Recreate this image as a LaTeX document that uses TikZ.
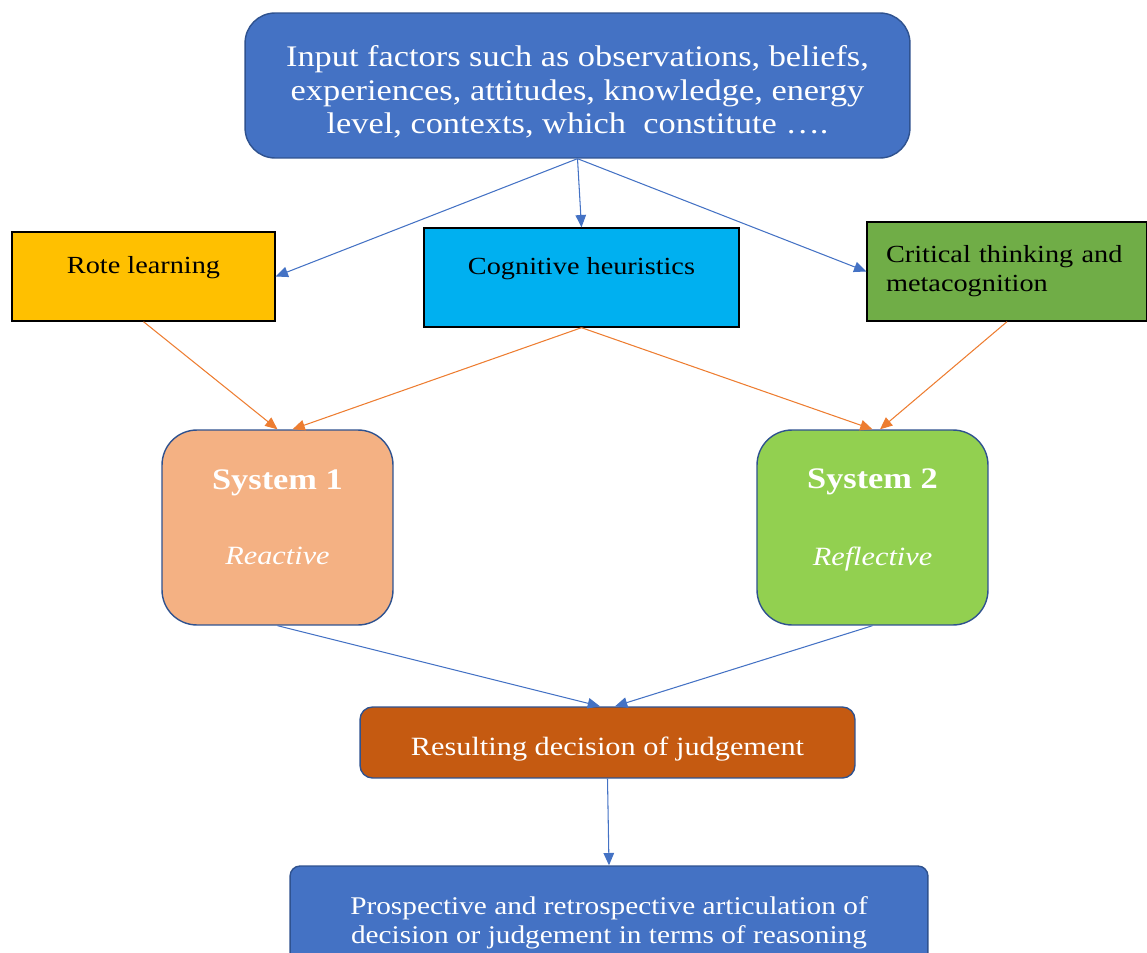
\documentclass[tikz,border=0pt]{standalone}
\usepackage{fontspec}
\setmainfont[FakeStretch=1.15]{Liberation Serif}
\usepackage{xcolor}
\usepackage{tikz}
\usetikzlibrary{shapes,arrows.meta,positioning}
\definecolor{inblue}{HTML}{4472C4}
\definecolor{inedge}{HTML}{2F528F}
\definecolor{rotefill}{HTML}{FFC000}
\definecolor{cogfill}{HTML}{00B0F0}
\definecolor{critfill}{HTML}{70AD47}
\definecolor{sysone}{HTML}{F4B183}
\definecolor{systwo}{HTML}{92D050}
\definecolor{resfill}{HTML}{C55A11}
\definecolor{orarrow}{HTML}{ED7D31}

\begin{document}
\begin{tikzpicture}[x=0.02cm, y=-0.02cm,
                   box/.style={draw=black, line width=0.8pt, inner sep=0pt, align=center,
                               font=\fontsize{14}{16.5}\selectfont},
                   roundbox/.style={draw=inedge, line width=0.8pt, inner sep=0pt, align=center,
                                    text=white},
                   sysbox/.style={roundbox, rounded corners=0.7cm, minimum width=4.62cm,
                                  minimum height=3.9cm},
                   bluearrow/.style={draw=inblue, line width=0.6pt,
                                     -{Triangle[width=6pt,length=7pt]}},
                   orangearrow/.style={draw=orarrow, line width=0.6pt,
                                       -{Triangle[width=6pt,length=7pt]}}]
          \useasboundingbox (0,0) rectangle (1147,953);
          % input box
          \node[roundbox, fill=inblue, rounded corners=0.6cm, minimum width=13.3cm,
                minimum height=2.9cm] (input) at (577.5,85.5) {};
          \node[text=white, align=center, inner sep=0pt,
                font=\fontsize{17}{19}\selectfont] (inputtext) at (577.5,92)
            {Input factors such as observations, beliefs,\\
             experiences, attitudes, knowledge, energy\\
             level, contexts, which\ \ constitute \dots.};
          % three routes
          \node[box, fill=rotefill, minimum width=5.26cm, minimum height=1.78cm,
                text depth=0.45cm] (rote) at (143.5,276.5)
            {Rote learning};
          \node[box, fill=cogfill, minimum width=6.3cm, minimum height=1.98cm,
                text depth=0.45cm] (heur) at (581.5,277.5)
            {Cognitive heuristics};
          \node[box, fill=critfill, align=left, text width=4.84cm, inner xsep=0.38cm,
                minimum height=1.98cm] (crit) at (1007,271.5)
            {Critical thinking and\\ metacognition};
          % the two systems
          \node[sysbox, fill=sysone] (sys1) at (277.5,527.5)
            {{\fontsize{17}{20}\selectfont\bfseries System 1}\\[1.0cm]
             {\fontsize{15}{18}\selectfont\itshape Reactive}\\[0cm]\mbox{}};
          \node[sysbox, fill=systwo] (sys2) at (872.5,527.5)
            {{\fontsize{17}{20}\selectfont\bfseries System 2}\\[1.0cm]
             {\fontsize{15}{18}\selectfont\itshape Reflective}\\[0cm]\mbox{}};
          % outcome
          \node[roundbox, fill=resfill, rounded corners=0.25cm, minimum width=9.9cm,
                minimum height=1.42cm, text height=0.65cm,
                font=\fontsize{15}{18}\selectfont] (result) at (607.5,742.5)
            {Resulting decision of judgement};
          \node[roundbox, fill=inblue, rounded corners=0.2cm, minimum width=12.76cm,
                minimum height=2.28cm, font=\fontsize{14.5}{16.5}\selectfont] (artic) at (609,923)
            {Prospective and retrospective articulation of\\
             decision or judgement in terms of reasoning};
          % connectors
          \draw[bluearrow] (input.south) -- (rote.east);
          \draw[bluearrow] (input.south) -- (heur.north);
          \draw[bluearrow] (input.south) -- (crit.west);
          \draw[orangearrow] (rote.south) -- (sys1.north);
          \draw[orangearrow] (heur.south) -- ([xshift=0.3cm]sys1.north);
          \draw[orangearrow] (heur.south) -- (sys2.north);
          \draw[orangearrow] (crit.south) -- ([xshift=0.15cm]sys2.north);
          \draw[bluearrow] (sys1.south) -- ([xshift=-0.15cm]result.north);
          \draw[bluearrow] (sys2.south) -- ([xshift=0.15cm]result.north);
          \draw[bluearrow] (result.south) -- (artic.north);
        \end{tikzpicture}
\end{document}
